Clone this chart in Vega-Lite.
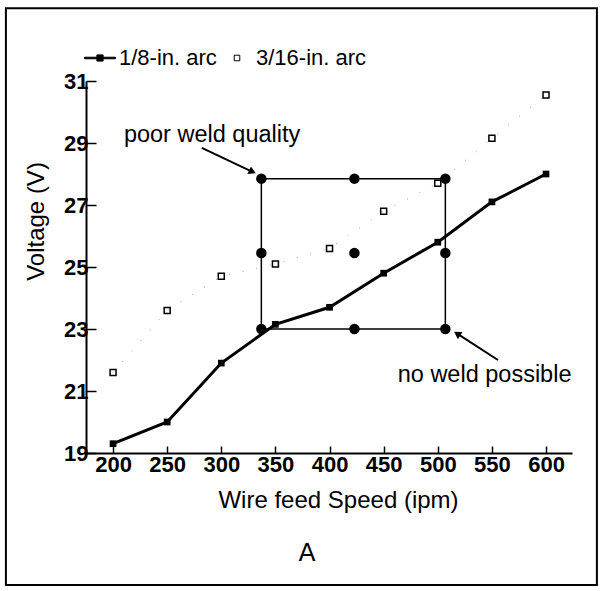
{
  "$schema": "https://vega.github.io/schema/vega-lite/v6.json",
  "width": 486,
  "height": 372,
  "autosize": {"type": "none"},
  "padding": {"left": 86, "top": 81, "right": 31, "bottom": 138},
  "background": "white",
  "config": {
    "view": {"stroke": null},
    "font": "Liberation Sans",
    "axis": {"grid": false, "domainColor": "black", "domainWidth": 2, "tickColor": "black", "tickWidth": 1.5, "labelColor": "black", "titleColor": "black", "labelFont": "Liberation Sans", "titleFont": "Liberation Sans"}
  },
  "title": {"text": "A", "orient": "bottom", "anchor": "middle", "dx": -22, "offset": -45, "font": "DejaVu Sans", "fontSize": 25, "fontWeight": "normal", "color": "black"},
  "datasets": {
    "eighth": [
      {"speed": 200, "voltage": 19.3, "series": "1/8-in. arc"},
      {"speed": 250, "voltage": 20.0, "series": "1/8-in. arc"},
      {"speed": 300, "voltage": 21.9, "series": "1/8-in. arc"},
      {"speed": 350, "voltage": 23.15, "series": "1/8-in. arc"},
      {"speed": 400, "voltage": 23.7, "series": "1/8-in. arc"},
      {"speed": 450, "voltage": 24.8, "series": "1/8-in. arc"},
      {"speed": 500, "voltage": 25.8, "series": "1/8-in. arc"},
      {"speed": 550, "voltage": 27.1, "series": "1/8-in. arc"},
      {"speed": 600, "voltage": 28.0, "series": "1/8-in. arc"}
    ],
    "sixteenth": [
      {"speed": 200, "voltage": 21.6, "series": "3/16-in. arc"},
      {"speed": 250, "voltage": 23.6, "series": "3/16-in. arc"},
      {"speed": 300, "voltage": 24.7, "series": "3/16-in. arc"},
      {"speed": 350, "voltage": 25.1, "series": "3/16-in. arc"},
      {"speed": 400, "voltage": 25.6, "series": "3/16-in. arc"},
      {"speed": 450, "voltage": 26.8, "series": "3/16-in. arc"},
      {"speed": 500, "voltage": 27.7, "series": "3/16-in. arc"},
      {"speed": 550, "voltage": 29.15, "series": "3/16-in. arc"},
      {"speed": 600, "voltage": 30.55, "series": "3/16-in. arc"}
    ],
    "box": [{"x1": 337, "x2": 507, "y1": 23.0, "y2": 27.85}],
    "dots": [
      {"speed": 337, "voltage": 23.0}, {"speed": 423, "voltage": 23.0}, {"speed": 507, "voltage": 23.0},
      {"speed": 337, "voltage": 25.45}, {"speed": 423, "voltage": 25.45}, {"speed": 507, "voltage": 25.45},
      {"speed": 337, "voltage": 27.85}, {"speed": 423, "voltage": 27.85}, {"speed": 507, "voltage": 27.85}
    ],
    "arrows": [
      {"xs": 282, "ys": 28.84, "xe": 328.8, "ye": 28.07, "angle": 25},
      {"xs": 555.6, "ys": 22.0, "xe": 517.9, "ye": 22.85, "angle": 213}
    ],
    "notes": [
      {"speed": 210, "voltage": 29.02, "label": "poor weld quality"},
      {"speed": 463, "voltage": 21.29, "label": "no weld possible"}
    ]
  },
  "layer": [
    {
      "data": {"name": "eighth"},
      "mark": {"type": "line", "color": "black", "strokeWidth": 3},
      "encoding": {
        "x": {"field": "speed", "type": "quantitative", "scale": {"domain": [175, 624], "nice": false, "zero": false},
          "axis": {"title": "Wire feed Speed (ipm)", "values": [200, 250, 300, 350, 400, 450, 500, 550, 600], "tickSize": -7, "labelFontSize": 22, "labelFontWeight": "bold", "labelPadding": 8, "titleFontSize": 24, "titleFontWeight": "normal", "titleX": 252, "titleY": 35, "titleBaseline": "top"}},
        "y": {"field": "voltage", "type": "quantitative", "scale": {"domain": [19, 31], "nice": false, "zero": false},
          "axis": {"title": "Voltage (V)", "values": [19, 21, 23, 25, 27, 29, 31], "tickSize": -10, "labelFontSize": 22, "labelFontWeight": "bold", "labelPadding": 8, "titleFontSize": 24, "titleFontWeight": "normal", "titleX": -43, "titleY": 140, "titleAlign": "center", "titleBaseline": "alphabetic"}}
      }
    },
    {
      "data": {"values": [{}]},
      "mark": {"type": "rect", "filled": false, "stroke": "black", "strokeWidth": 2},
      "encoding": {
        "x": {"datum": 101, "type": "quantitative", "scale": {"domain": [175, 624], "nice": false, "zero": false}},
        "x2": {"datum": 647},
        "y": {"datum": 33.35, "type": "quantitative", "scale": {"domain": [19, 31], "nice": false, "zero": false}},
        "y2": {"datum": 14.74}
      }
    },
    {
      "data": {"name": "sixteenth"},
      "mark": {"type": "line", "color": "#9a9a9a", "strokeWidth": 1, "strokeDash": [1, 13]},
      "encoding": {
        "x": {"field": "speed", "type": "quantitative"},
        "y": {"field": "voltage", "type": "quantitative"}
      }
    },
    {
      "data": {"name": "eighth"},
      "mark": {"type": "point", "shape": "square", "filled": true, "color": "black", "size": 45, "opacity": 1},
      "encoding": {
        "x": {"field": "speed", "type": "quantitative"},
        "y": {"field": "voltage", "type": "quantitative"}
      }
    },
    {
      "data": {"name": "sixteenth"},
      "mark": {"type": "point", "shape": "square", "filled": false, "stroke": "black", "strokeWidth": 1.5, "size": 36, "opacity": 1},
      "encoding": {
        "x": {"field": "speed", "type": "quantitative"},
        "y": {"field": "voltage", "type": "quantitative"}
      }
    },
    {
      "data": {"name": "box"},
      "mark": {"type": "rect", "filled": false, "stroke": "black", "strokeWidth": 1.5},
      "encoding": {
        "x": {"field": "x1", "type": "quantitative"},
        "x2": {"field": "x2"},
        "y": {"field": "y1", "type": "quantitative"},
        "y2": {"field": "y2"}
      }
    },
    {
      "data": {"name": "dots"},
      "mark": {"type": "point", "shape": "circle", "filled": true, "color": "black", "size": 110, "opacity": 1},
      "encoding": {
        "x": {"field": "speed", "type": "quantitative"},
        "y": {"field": "voltage", "type": "quantitative"}
      }
    },
    {
      "data": {"name": "arrows"},
      "mark": {"type": "rule", "color": "black", "strokeWidth": 2},
      "encoding": {
        "x": {"field": "xs", "type": "quantitative"},
        "y": {"field": "ys", "type": "quantitative"},
        "x2": {"field": "xe"},
        "y2": {"field": "ye"}
      }
    },
    {
      "data": {"name": "arrows"},
      "mark": {"type": "point", "shape": "triangle-right", "filled": true, "color": "black", "size": 70, "opacity": 1},
      "encoding": {
        "x": {"field": "xe", "type": "quantitative"},
        "y": {"field": "ye", "type": "quantitative"},
        "angle": {"field": "angle", "type": "quantitative", "scale": null}
      }
    },
    {
      "data": {"name": "notes"},
      "mark": {"type": "text", "align": "left", "baseline": "alphabetic", "fontSize": 23.5, "font": "Liberation Sans", "color": "black"},
      "encoding": {
        "x": {"field": "speed", "type": "quantitative"},
        "y": {"field": "voltage", "type": "quantitative"},
        "text": {"field": "label"}
      }
    },
    {
      "data": {"name": "eighth"},
      "mark": {"type": "point", "filled": true, "opacity": 0},
      "encoding": {
        "x": {"field": "speed", "type": "quantitative"},
        "y": {"field": "voltage", "type": "quantitative"},
        "shape": {"field": "series", "type": "nominal",
          "scale": {"domain": ["1/8-in. arc", "3/16-in. arc"], "range": ["M-1,-0.05H1V0.05H-1Z M-0.2,-0.2H0.2V0.2H-0.2Z", "M-0.18,-0.18H0.18V0.18H-0.18Z"]},
          "legend": {"title": null, "orient": "none", "legendX": -2, "legendY": -39, "direction": "horizontal", "symbolSize": 961, "symbolOpacity": 1, "labelFont": "Liberation Sans", "labelFontSize": 22, "labelColor": "black", "labelOffset": 3, "columnPadding": 4, "padding": 0,
            "encode": {"symbols": {"update": {"stroke": {"value": "black"}, "strokeWidth": {"value": 1}, "opacity": {"value": 1}}}}}},
        "fill": {"field": "series", "type": "nominal",
          "scale": {"domain": ["1/8-in. arc", "3/16-in. arc"], "range": ["black", "white"]},
          "legend": {"title": null, "orient": "none", "legendX": -2, "legendY": -39, "direction": "horizontal", "symbolSize": 961, "symbolOpacity": 1, "labelFont": "Liberation Sans", "labelFontSize": 22, "labelColor": "black", "labelOffset": 3, "columnPadding": 4, "padding": 0,
            "encode": {"symbols": {"update": {"stroke": {"value": "black"}, "strokeWidth": {"value": 1}, "opacity": {"value": 1}}}}}}
      }
    }
  ]
}
